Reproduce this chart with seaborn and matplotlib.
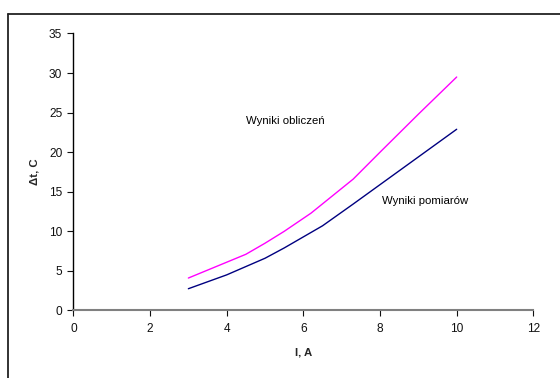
import matplotlib
matplotlib.use("Agg")
import matplotlib.pyplot as plt
from matplotlib.lines import Line2D
import seaborn as sns
import pandas as pd

# Data
current_calc = [3, 4, 4.5, 5, 5.5, 6.2, 7.3, 8, 9, 10]
dt_calc = [4.1, 6.1, 7.1, 8.5, 10.0, 12.3, 16.6, 20.0, 24.8, 29.5]
current_meas = [3, 4, 5, 5.5, 6, 6.5, 7.3, 8, 9, 10]
dt_meas = [2.75, 4.5, 6.6, 7.9, 9.3, 10.7, 13.45, 15.9, 19.4, 22.9]
label_calc = "Wyniki obliczeń"
label_meas = "Wyniki pomiarów"
x_ticks = [0, 2, 4, 6, 8, 10, 12]
y_ticks = [0, 5, 10, 15, 20, 25, 30, 35]

sns.set_theme(style="white")
plt.rcParams['font.family'] = ['Liberation Sans', 'DejaVu Sans']

df_calc = pd.DataFrame({"I": current_calc, "dt": dt_calc})
df_meas = pd.DataFrame({"I": current_meas, "dt": dt_meas})

fig = plt.figure(figsize=(5.6, 3.78), dpi=100)
ax = fig.add_axes([0.1310, 0.1786, 0.8214, 0.7328])

sns.lineplot(data=df_calc, x="I", y="dt", ax=ax, color="#FF00FF", linewidth=1.0,
             sort=False, estimator=None)
sns.lineplot(data=df_meas, x="I", y="dt", ax=ax, color="#000080", linewidth=1.0,
             sort=False, estimator=None)

ax.set_xlim(0, 12)
ax.set_ylim(0, 35)
ax.set_xticks(x_ticks)
ax.set_yticks(y_ticks)
ax.set_xticklabels([str(t) for t in x_ticks])
ax.set_yticklabels([str(t) for t in y_ticks])

for s in ["top", "right"]:
    ax.spines[s].set_visible(False)
ax.spines["left"].set_color("black")
ax.spines["left"].set_linewidth(1.0)
ax.spines["bottom"].set_color("#808080")
ax.spines["bottom"].set_linewidth(1.5)

fs = 8.2
ax.tick_params(axis="both", which="major", labelsize=8.6, colors="#111111",
               length=4, width=0.8, direction="out", bottom=True, left=True)
ax.tick_params(axis="x", pad=5)
ax.tick_params(axis="y", pad=4)

ax.set_xlabel("I, A", fontsize=fs, fontweight="bold", labelpad=9)
ax.set_ylabel("Δt, C", fontsize=fs, fontweight="bold", labelpad=7)

ax.text(246 / 560, 1 - 121 / 378, label_calc, transform=fig.transFigure,
        fontsize=fs, ha="left", va="center", color="black")
ax.text(382.5 / 560, 1 - 201.5 / 378, label_meas, transform=fig.transFigure,
        fontsize=fs, ha="left", va="center", color="black")

# outer frame (left and top edges visible)
fig.add_artist(Line2D([8 / 560, 8 / 560], [0, 1 - 14 / 378],
                      transform=fig.transFigure, color="#222222", linewidth=1.3))
fig.add_artist(Line2D([8 / 560, 1.0], [1 - 14 / 378, 1 - 14 / 378],
                      transform=fig.transFigure, color="#222222", linewidth=1.3))

fig.savefig("out.png", dpi=100)
